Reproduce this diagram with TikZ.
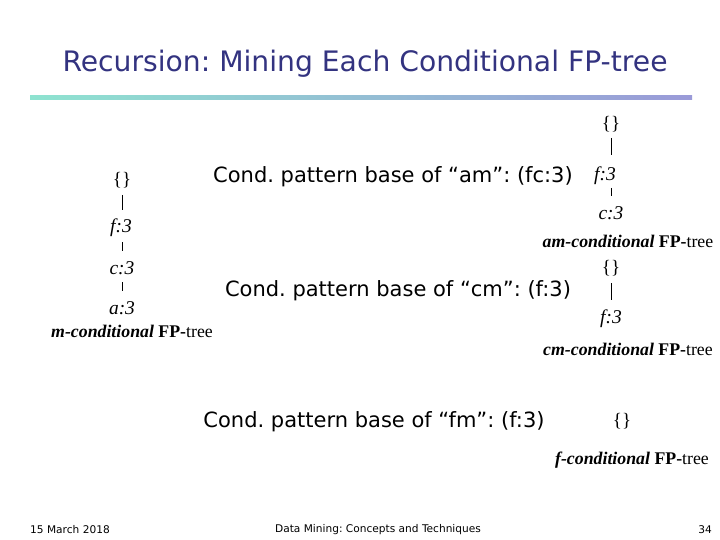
\documentclass[tikz,border=0pt]{standalone}
\usepackage{fontspec}
\setmainfont{Liberation Serif}
\newfontfamily\tah{DejaVu Sans}
\usetikzlibrary{positioning}
\definecolor{titleblue}{HTML}{333380}
\definecolor{lineA}{HTML}{8EE3D0}
\definecolor{lineB}{HTML}{9A9AD8}
\tikzset{
  tl/.style={font=\fontsize{19.5}{19.5}\selectfont\itshape, inner sep=0pt, anchor=center},
  br/.style={font=\fontsize{19}{19}\selectfont, inner sep=0pt, anchor=center},
  fpc/.style={font=\fontsize{17.8}{17.8}\selectfont, inner sep=0pt, anchor=center},
  cond/.style={font=\tah\fontsize{21}{21}\selectfont, inner sep=0pt, anchor=center},
  foot/.style={font=\tah\fontsize{10.6}{10.6}\selectfont, inner sep=0pt, anchor=center},
  edge/.style={draw, line width=0.6pt}
}
\newcommand{\fpcap}[1]{\textbf{\textit{#1-conditional}} \textbf{FP-}tree}
\begin{document}
\frenchspacing
\begin{tikzpicture}[x=1pt,y=-1pt]
\useasboundingbox (0,0) rectangle (720,540);
% title
\node[font=\tah\fontsize{28.2}{28.2}\selectfont, text=titleblue, inner sep=0pt] (title) at (365,64) {Recursion: Mining Each Conditional FP-tree};
\shade[left color=lineA, right color=lineB] (30,96) rectangle (692,100);
% left tree
\node[br] (l0) at (122,180) {\{\}};
\node[tl] (l1) at (121,228) {f:3};
\node[tl] (l2) at (122,268) {c:3};
\node[tl] (l3) at (122,308) {a:3};
\draw[edge] (122,195) -- (122,210);
\draw[edge] (122,242) -- (122,251);
\draw[edge] (122,282) -- (122,291);
\node[fpc] (lc) at (132,331) {\fpcap{m}};
% conds
\node[cond] (c1) at (393,177) {Cond. pattern base of “am”: (fc:3)};
\node[cond] (c2) at (398,291) {Cond. pattern base of “cm”: (f:3)};
\node[cond] (c3) at (374,422) {Cond. pattern base of “fm”: (f:3)};
% am tree
\node[br] (a0) at (611,124) {\{\}};
\node[tl] (a1) at (605,176) {f:3};
\node[tl] (a2) at (611,213) {c:3};
\draw[edge] (611,138) -- (611,155);
\draw[edge] (611,188) -- (611,196);
\node[fpc] (ac) at (628,241) {\fpcap{am}};
% cm tree
\node[br] (m0) at (611,268) {\{\}};
\node[tl] (m1) at (611,319) {f:3};
\draw[edge] (611,283) -- (611,300);
\node[fpc] (mc) at (628,349) {\fpcap{cm}};
% fm tree
\node[br] (f0) at (622,421) {\{\}};
\node[fpc] (fc) at (632,460) {\fpcap{f}};
% footer
\node[foot] (d) at (70,530) {15 March 2018};
\node[foot] (t) at (378,530) {Data Mining: Concepts and Techniques};
\node[foot] (p) at (705,530) {34};
\end{tikzpicture}
\end{document}
